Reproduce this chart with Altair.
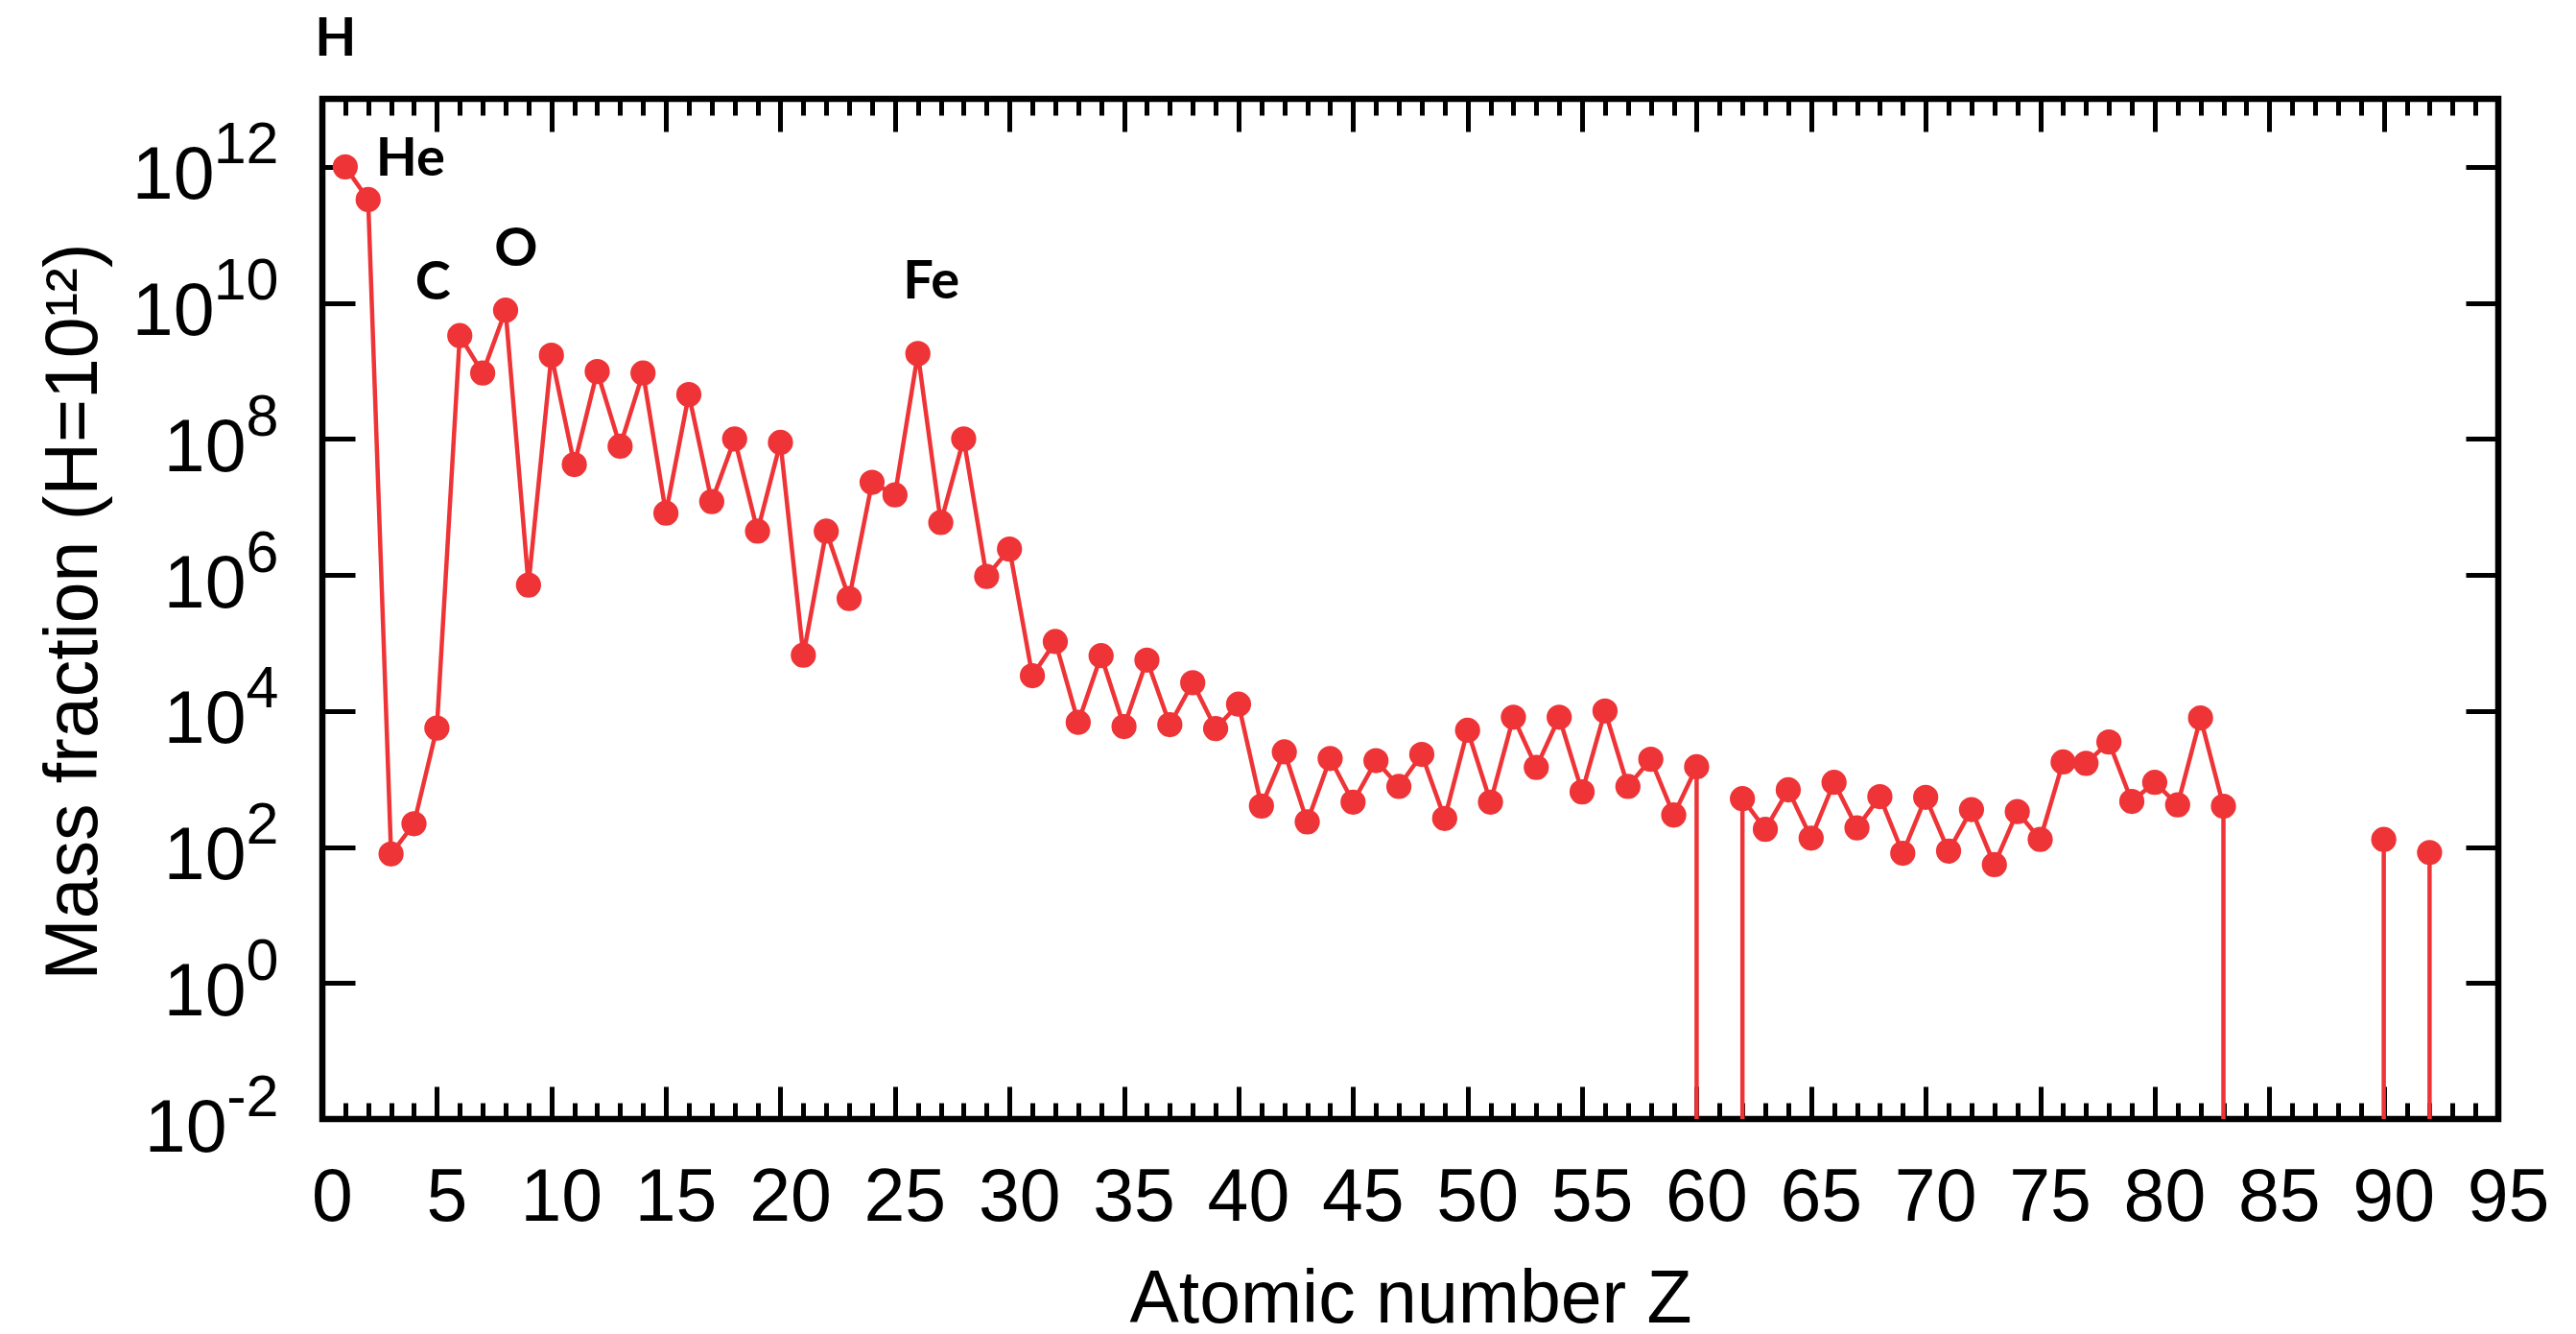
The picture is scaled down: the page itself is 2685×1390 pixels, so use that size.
import altair as alt
import pandas as pd

# ---------------- data ----------------
Z = list(range(1, 93))
mass_fraction = [
    1.0e12, 3.3e11, 79, 220, 5.6e3, 3.3e9, 9.3e8, 7.8e9, 7.1e5, 1.7e9,      # 1-10
    4.2e7, 9.8e8, 7.8e7, 9.3e8, 8.1e6, 4.5e8, 1.2e7, 1.0e8, 4.4e6, 8.9e7,    # 11-20
    6.6e4, 4.4e6, 4.5e5, 2.3e7, 1.5e7, 1.8e9, 5.9e6, 1.0e8, 9.5e5, 2.4e6,    # 21-30
    3.3e4, 1.05e5, 6.8e3, 6.5e4, 5.9e3, 5.6e4, 6.3e3, 2.6e4, 5.5e3, 1.26e4,  # 31-40
    400, 2.5e3, 234, 2.0e3, 457, 1.86e3, 776, 2.3e3, 263, 5.2e3,             # 41-50
    457, 8.1e3, 1.48e3, 8.1e3, 646, 1.0e4, 776, 1.95e3, 295, 1.51e3,         # 51-60
    None, 513, 182, 692, 135, 891, 191, 550, 81, 537,                        # 61-70
    87, 355, 55, 331, 129, 1.78e3, 1.7e3, 3.5e3, 468, 891,                   # 71-80
    417, 7.9e3, 398, None, None, None, None, None, None, 129,                # 81-90
    None, 83,                                                                # 91-92
]
label_text = ["H", "He", "C", "O", "Fe"]
label_Z = [1, 2, 6, 8, 26]

x_major = list(range(0, 96, 5))
x_minor = list(range(0, 96))
y_ticks = [1e-2, 1e0, 1e2, 1e4, 1e6, 1e8, 1e10, 1e12]

# ---------------- styles ----------------
RED = "#EE3437"
FONT = "Liberation Sans"
LABEL_FONT = "Lato"
LABEL_OFFSETS = {"H": (-10, -116), "He": (44, -25), "C": (-28, -38), "O": (11, -46), "Fe": (14, -57)}

# ---------------- tables ----------------
seg, s = [], 0
for v in mass_fraction:
    if v is None:
        s += 1
    seg.append(s)
df = pd.DataFrame({"Z": Z, "value": mass_fraction, "seg": seg})
pts = df.dropna().copy()

present = {z for z, v in zip(Z, mass_fraction) if v is not None}
zset = set(Z)
stem_Z = [z for z in sorted(present)
          if ((z - 1) in zset and (z - 1) not in present) or ((z + 1) in zset and (z + 1) not in present)]
stems_df = pts[pts["Z"].isin(stem_Z)]

val_by_Z = dict(zip(Z, mass_fraction))
lab_df = pd.DataFrame({"label": label_text, "Z": label_Z, "value": [val_by_Z[z] for z in label_Z]})

xs = alt.Scale(domain=[0, 95], nice=False, zero=False)
ys = alt.Scale(type="log", domain=[1e-2, 1e13], nice=False)

common = dict(domain=False, grid=False, tickColor="black", tickWidth=5,
              labelOverlap=False, labelFlush=False)

ax_bottom_major = alt.Axis(
    orient="bottom", values=x_major, offset=-34, tickSize=34,
    labelFont=FONT, labelFontSize=77, labelColor="black", labelPadding=105,
    labelBaseline="alphabetic", labelOffset=10,
    title="Atomic number Z", titleFont=FONT, titleFontSize=77, titleFontWeight="normal",
    titleColor="black", titleBaseline="alphabetic", titleY=245, **common)
ax_bottom_minor = alt.Axis(orient="bottom", values=x_minor, offset=-17, tickSize=17,
                           labels=False, title=None, **common)
ax_top_major = alt.Axis(orient="top", values=x_major, offset=-34, tickSize=34,
                        labels=False, title=None, **common)
ax_top_minor = alt.Axis(orient="top", values=x_minor, offset=-17, tickSize=17,
                        labels=False, title=None, **common)

ax_left_ticks = alt.Axis(orient="left", values=y_ticks, offset=-34, tickSize=34,
                         labels=False, title=None, **common)
ax_right_ticks = alt.Axis(orient="right", values=y_ticks, offset=-34, tickSize=34,
                          labels=False, title=None, **common)

ax_exp = alt.Axis(
    orient="left", values=y_ticks, offset=0, ticks=False, tickSize=0,
    labelExpr="'' + round(log(datum.value) / LN10)",
    labelFont=FONT, labelFontSize=61, labelColor="black", labelAlign="right",
    labelBaseline="alphabetic", labelOffset=-4, labelPadding=46,
    title="Mass fraction (H=10¹²)", titleFont=FONT, titleFontSize=77,
    titleFontWeight="normal", titleColor="black", titleAngle=270,
    titleBaseline="alphabetic", titleAlign="center", titleX=-236, titleY=534,
    domain=False, grid=False, labelOverlap=False, labelFlush=False)


def ten_axis(vals, pad):
    return alt.Axis(orient="left", values=vals, offset=0, ticks=False, tickSize=0,
                    labelExpr="'10'", labelFont=FONT, labelFontSize=77, labelColor="black",
                    labelAlign="right", labelBaseline="alphabetic", labelOffset=33,
                    labelPadding=pad, title=None, domain=False, grid=False,
                    labelOverlap=False, labelFlush=False)


ten_axes = [
    ten_axis([1e10, 1e12], 113),
    ten_axis([1e0, 1e2, 1e4, 1e6, 1e8], 80),
    ten_axis([1e-2], 100),
]

stems = alt.Chart(stems_df).mark_rule(color=RED, strokeWidth=4.5).encode(
    x=alt.X("Z:Q", scale=xs, axis=ax_top_major),
    y=alt.Y("value:Q", scale=ys, axis=ax_right_ticks),
    y2=alt.datum(1e-2),
)
line = alt.Chart(pts).mark_line(color=RED, strokeWidth=4.5).encode(
    x=alt.X("Z:Q", scale=xs, axis=ax_bottom_major),
    y=alt.Y("value:Q", scale=ys, axis=ax_left_ticks),
    detail="seg:N",
)
dots = alt.Chart(pts).mark_circle(color=RED, size=690, opacity=1).encode(
    x=alt.X("Z:Q", scale=xs, axis=ax_bottom_minor),
    y=alt.Y("value:Q", scale=ys, axis=ax_exp),
)

label_layers = []
for i, lab in enumerate(label_text):
    dx, dy = LABEL_OFFSETS[lab]
    xaxis = ax_top_minor if i == 0 else None
    yaxis = ten_axes[i - 1] if 1 <= i <= 3 else None
    label_layers.append(
        alt.Chart(lab_df).transform_filter(alt.datum.label == lab).mark_text(
            font=LABEL_FONT, fontWeight="bold", fontSize=56, color="black",
            align="center", baseline="alphabetic", dx=dx, dy=dy,
        ).encode(
            x=alt.X("Z:Q", scale=xs, axis=xaxis),
            y=alt.Y("value:Q", scale=ys, axis=yaxis),
            text="label:N",
        )
    )

chart = alt.layer(stems, line, dots, *label_layers).resolve_axis(
    x="independent", y="independent"
).properties(
    width=2268, height=1063,
    autosize=alt.AutoSizeParams(type="none"),
    padding={"left": 328, "top": 95, "right": 73, "bottom": 216},
    background="white",
).configure_view(stroke="black", strokeWidth=6.5)

chart.save("out.html", embed_options={"renderer": "svg", "actions": False})
